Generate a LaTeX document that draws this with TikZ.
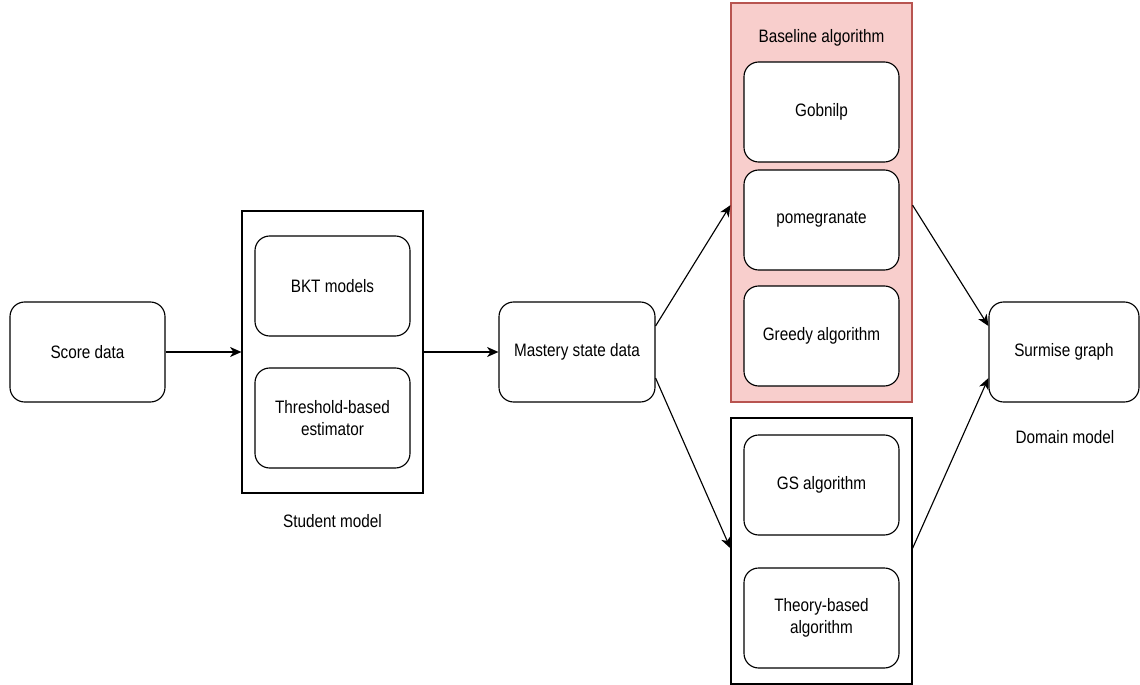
\documentclass[tikz,border=0pt]{standalone}
\usepackage{fontspec}
\setmainfont{Liberation Sans}[FakeStretch=0.85]
\usetikzlibrary{arrows.meta}
\definecolor{pinkfill}{HTML}{F8CECC}
\definecolor{pinkline}{HTML}{B85450}
\begin{document}
\begin{tikzpicture}[x=0.75pt,y=-0.75pt,
  font=\fontsize{13.5pt}{16pt}\selectfont,
  every node/.style={inner sep=0pt, align=center},
  item/.style={draw=black, line width=0.85pt, fill=white, rounded corners=11pt,
    minimum width=116.25pt, minimum height=75pt},
  group/.style={draw=black, line width=0.85pt, minimum width=135.75pt},
  caption/.style={},
  flow/.style={line width=0.85pt, -{Stealth[length=8.5pt,width=7.5pt,inset=2.5pt]}}]
\useasboundingbox (0,0) rectangle (1140,685);

% left column
\node[item] (score) at (87.5,352) {Score data};

% student model group
\node[group, minimum height=211.5pt] (student) at (332.5,352) {};
\node[item] (bkt) at (332.5,286) {BKT models};
\node[item] (thresh) at (332.5,418) {Threshold-based\\estimator};
\node[caption] (studentlbl) at (332.5,521) {Student model};

\node[item, minimum width=117pt] (mastery) at (577,352) {Mastery state data};

% baseline algorithms group
\node[group, draw=pinkline, fill=pinkfill, minimum height=299.25pt] (baseline) at (821.5,202.5) {};
\node[caption] (baselinelbl) at (821.5,38) {Baseline algorithm};
\node[item] (gobnilp) at (821.5,112) {Gobnilp};
\node[item] (pome) at (821.5,220) {pomegranate};
\node[item] (greedy) at (821.5,336) {Greedy algorithm};

% proposed algorithms group
\node[group, minimum height=199.5pt] (proposed) at (821.5,551) {};
\node[item] (gs) at (821.5,485) {GS algorithm};
\node[item] (theory) at (821.5,618) {Theory-based\\algorithm};

% domain model
\node[item, minimum width=112.5pt] (surmise) at (1064,352) {Surmise graph};
\node[caption] (domainlbl) at (1065,437) {Domain model};

% connectors
\draw[flow] (score) -- (student);
\draw[flow] (student) -- (mastery);
\draw[flow] ([yshift=19.5pt]mastery.east) -- ([yshift=-2pt]baseline.west);
\draw[flow] ([yshift=-19.5pt]mastery.east) -- ([yshift=2pt]proposed.west);
\draw[flow] ([yshift=-2pt]baseline.east) -- ([yshift=19.5pt]surmise.west);
\draw[flow] ([yshift=2pt]proposed.east) -- ([yshift=-19.5pt]surmise.west);
\end{tikzpicture}
\end{document}
